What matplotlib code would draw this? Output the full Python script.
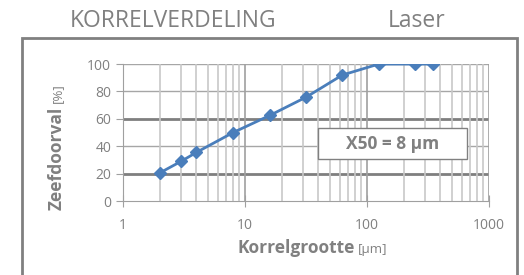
import matplotlib.pyplot as plt
from matplotlib.patches import Rectangle
from matplotlib.ticker import LogLocator, NullFormatter

plt.rcParams['font.family'] = ['Open Sans', 'DejaVu Sans']

# Korrelverdeling (laser)
korrel = [2, 3, 4, 8, 16, 32, 63, 125, 250, 350]
doorval = [20.5, 29, 35.5, 50, 62.5, 76, 92, 100, 100, 100]
yticks = [0, 20, 40, 60, 80, 100]
xticks = [1, 10, 100, 1000]

grijs = '#808080'
blauw = '#4a7ebb'

fig = plt.figure(figsize=(5.24, 2.75), dpi=100)
ax = fig.add_axes([0.2347, 0.269, 0.698, 0.498])

ax.plot(korrel, doorval, color=blauw, lw=2, marker='D', ms=6.5, zorder=3)

ax.set_xscale('log')
ax.set_xlim(1, 1000)
ax.set_ylim(0, 100)
ax.set_xticks(xticks)
ax.set_xticklabels([str(t) for t in xticks])
ax.xaxis.set_minor_locator(LogLocator(base=10, subs=range(2, 10)))
ax.xaxis.set_minor_formatter(NullFormatter())
ax.set_yticks(yticks)

# rasterlijnen
ax.grid(True, which='minor', axis='x', color='#c8c8c8', lw=1.2)
ax.grid(True, which='major', axis='x', color='#a0a0a0', lw=1.2)
for y in yticks[1:]:
    dik = y in (20, 60)
    ax.axhline(y, color='#7f7f7f' if dik else '#a6a6a6', lw=2 if dik else 1, zorder=1)

for s in ['top', 'right']:
    ax.spines[s].set_visible(False)
ax.spines['left'].set_color('#a0a0a0')
ax.spines['bottom'].set_color('#a0a0a0')
ax.tick_params(axis='both', which='major', colors='#a0a0a0', labelcolor=grijs,
               labelsize=10, length=5, direction='out')
ax.tick_params(axis='x', which='major', direction='inout', length=8, pad=8)
ax.tick_params(axis='x', which='minor', length=0)

# aslabels
fig.text(0.677, 0.08, 'Korrelgrootte', fontsize=12.5, fontweight='bold', color=grijs,
         ha='right', va='baseline')
fig.text(0.683, 0.08, '[µm]', fontsize=9.5, color=grijs, ha='left', va='baseline')
fig.text(0.109, 0.611, 'Zeefdoorval', fontsize=12.5, fontweight='bold', color=grijs,
         rotation=90, ha='center', va='top')
fig.text(0.109, 0.625, '[%]', fontsize=9.5, color=grijs, rotation=90, ha='center', va='bottom')

# titel
fig.text(0.133, 0.925, 'KORRELVERDELING', fontsize=16.5, color=grijs, va='center')
fig.text(0.74, 0.925, 'Laser', fontsize=16.5, color=grijs, va='center')

# X50 vak
ax.add_patch(Rectangle((0.533, 0.307), 0.407, 0.226, transform=ax.transAxes,
                       fc='white', ec=grijs, lw=1, zorder=4))
ax.text(0.736, 0.42, 'X50 = 8 µm', transform=ax.transAxes, fontsize=12.5,
        fontweight='bold', color=grijs, ha='center', va='center', zorder=5)

# kader rond grafiek
fig.patches.append(Rectangle((22 / 524, -0.05), 495 / 524, 1 - 38 / 275 + 0.05,
                             transform=fig.transFigure, fill=False, ec=grijs, lw=2))

fig.savefig('out.png', dpi=100)
